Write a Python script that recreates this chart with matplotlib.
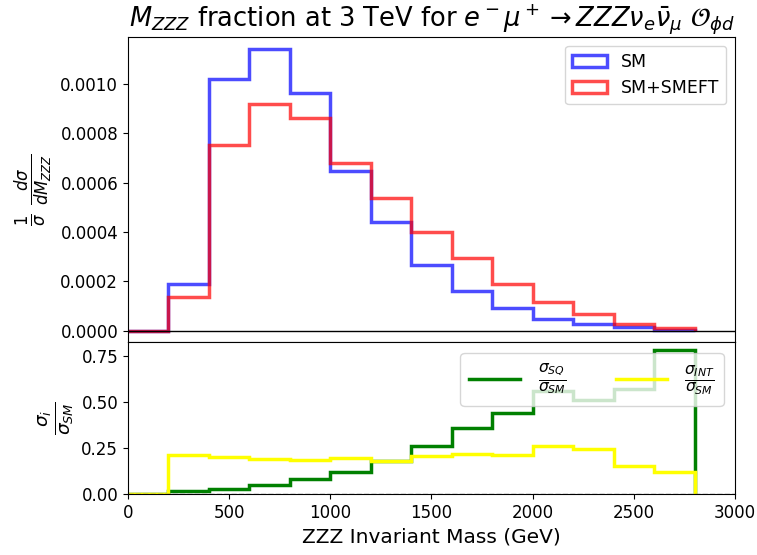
import numpy as np
import matplotlib
matplotlib.use("Agg")
import matplotlib.pyplot as plt

# Bordes de los bins (GeV)
edges = np.arange(0, 3000, 200)  # 0 ... 2800
centers = edges[:-1] + 100

# Distribuciones normalizadas
sm = [0.0, 0.000191, 0.001017, 0.001139, 0.000962, 0.000648, 0.000440,
      0.000265, 0.000163, 0.000092, 0.000047, 0.000030, 0.000015, 0.000005]
smeft = [0.0, 0.000139, 0.000753, 0.000919, 0.000860, 0.000680, 0.000539,
         0.000400, 0.000294, 0.000191, 0.000118, 0.0000675, 0.0000285, 0.000010]

# Cocientes sigma_i / sigma_SM
sq_ratio = [0.0, 0.016, 0.025, 0.047, 0.079, 0.122, 0.178,
            0.261, 0.358, 0.441, 0.561, 0.511, 0.574, 0.786]
int_ratio = [0.0, 0.210, 0.200, 0.192, 0.187, 0.194, 0.182,
             0.207, 0.218, 0.212, 0.259, 0.243, 0.151, 0.120]

fig = plt.figure(figsize=(7.57, 5.55), dpi=100)
gs = fig.add_gridspec(2, 1, height_ratios=[2, 1], hspace=0)
ax1 = fig.add_subplot(gs[0])
ax2 = fig.add_subplot(gs[1], sharex=ax1)
fig.subplots_adjust(left=0.169, right=0.971, top=0.933, bottom=0.110)

# Panel superior
ax1.hist(centers, bins=edges, weights=sm, histtype="step", color="blue",
         alpha=0.7, linewidth=2.5, label="SM")
ax1.hist(centers, bins=edges, weights=smeft, histtype="step", color="red",
         alpha=0.7, linewidth=2.5, label="SM+SMEFT")
ax1.axhline(0, color="black", linewidth=1)
ax1.set_ylim(-0.0000435, 0.001188)
ax1.set_ylabel(r"$\frac{1}{\sigma}\ \frac{d\sigma}{dM_{ZZZ}}$", fontsize=17)
ax1.tick_params(axis="y", labelsize=12)
ax1.tick_params(axis="x", bottom=False, labelbottom=False)
ax1.legend(loc="upper right", fontsize=12.5)
ax1.set_title(r"$M_{ZZZ}$ fraction at 3 TeV for $e^-\mu^+ \rightarrow ZZZ\nu_e\bar{\nu}_\mu$ $\mathcal{O}_{\phi d}$",
              fontsize=18.5)

# Panel inferior
ax2.stairs(sq_ratio, edges, color="green", linewidth=2.5,
           label=r"$\frac{\sigma_{SQ}}{\sigma_{SM}}$")
ax2.stairs(int_ratio, edges, color="yellow", linewidth=2.5,
           label=r"$\frac{\sigma_{INT}}{\sigma_{SM}}$")
ax2.axhline(0, color="gray", linestyle="--", linewidth=1)
ax2.set_ylim(0, 0.83)
ax2.set_xlim(0, 3000)
ax2.set_yticks([0, 0.25, 0.5, 0.75])
ax2.set_ylabel(r"$\frac{\sigma_i}{\sigma_{SM}}$", fontsize=19)
ax2.set_xlabel("ZZZ Invariant Mass (GeV)", fontsize=14.5)
ax2.tick_params(labelsize=12)
ax2.legend(loc="upper right", ncol=2, fontsize=16, handlelength=2.3,
           handletextpad=0.8, columnspacing=2.2, borderaxespad=0.5)

plt.savefig("out.png", dpi=100)
